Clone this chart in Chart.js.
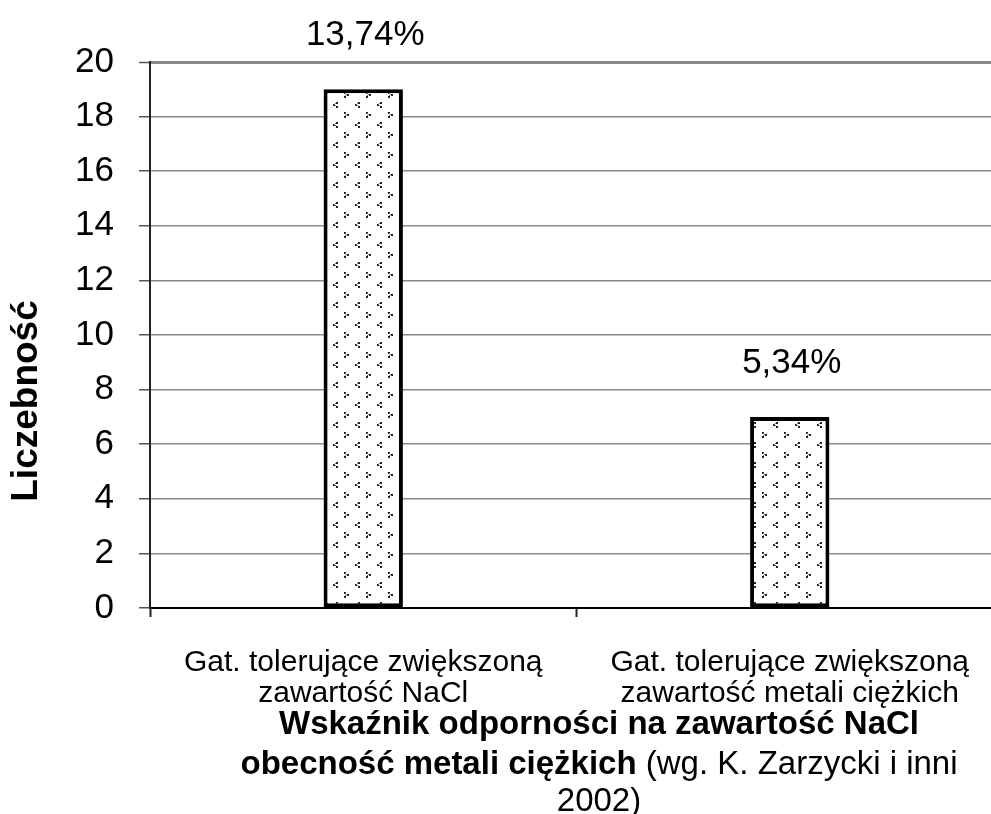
<!DOCTYPE html>
<html lang="pl">
<head>
<meta charset="utf-8">
<title>Wskaźnik odporności</title>
<script src="https://cdn.jsdelivr.net/npm/chart.js@4.4.1/dist/chart.umd.min.js"></script>
<style>
  html, body { margin: 0; padding: 0; background: #fff; overflow: hidden; }
  #wrap { position: absolute; left: 0; top: 0; width: 1003px; height: 814px; }
</style>
</head>
<body>
<div id="wrap"><canvas id="chart"></canvas></div>
<script>
// Category labels (two lines each)
const categories = [
  ['Gat. tolerujące zwiększoną', 'zawartość NaCl'],
  ['Gat. tolerujące zwiększoną', 'zawartość metali ciężkich']
];
// Number of species in each group
const counts = [19, 7];
// Share labels shown above the bars
const percentLabels = ['13,74%', '5,34%'];

const yTitle = 'Liczebność';
const xTitleLine1 = 'Wskaźnik odporności na zawartość NaCl';
const xTitleLine2Bold = 'obecność metali ciężkich';
const xTitleLine2Normal = ' (wg. K. Zarzycki i inni';
const xTitleLine3 = '2002)';

const FONT = '"Liberation Sans", Arial, Helvetica, sans-serif';

// Dotted "< >" fill used for the bars
function makePattern() {
  const c = document.createElement('canvas');
  c.width = 22; c.height = 20;
  const g = c.getContext('2d');
  g.fillStyle = '#fff';
  g.fillRect(0, 0, 22, 20);
  g.fillStyle = '#222';
  // "<" glyph: three heavy dots
  [[3,0],[0,2],[3,4]].forEach(([x, y]) => g.fillRect(3 + x, 2 + y, 2, 2));
  g.fillStyle = '#777';
  [[2,1],[1,2],[2,3]].forEach(([x, y]) => g.fillRect(3 + x, 2 + y, 1, 1));
  // ">" glyph
  g.fillStyle = '#222';
  [[0,0],[3,2],[0,4]].forEach(([x, y]) => g.fillRect(14 + x, 12 + y, 2, 2));
  g.fillStyle = '#777';
  [[1,1],[2,2],[1,3]].forEach(([x, y]) => g.fillRect(14 + x, 12 + y, 1, 1));
  return document.getElementById('chart').getContext('2d').createPattern(c, 'repeat');
}

const textPlugin = {
  id: 'texts',
  afterDatasetsDraw(chart) {
    const ctx = chart.ctx;
    ctx.save();
    ctx.fillStyle = '#000';
    // value labels above bars
    const meta = chart.getDatasetMeta(0);
    ctx.font = '35px ' + FONT;
    ctx.textAlign = 'center';
    ctx.textBaseline = 'alphabetic';
    meta.data.forEach((bar, i) => {
      ctx.fillText(percentLabels[i], bar.x + 2, bar.y - 44);
    });

    // y-axis title
    ctx.save();
    ctx.translate(27, 401);
    ctx.rotate(-Math.PI / 2);
    ctx.font = 'bold 37px ' + FONT;
    ctx.textAlign = 'center';
    ctx.textBaseline = 'middle';
    ctx.fillText(yTitle, 0, 0);
    ctx.restore();

    // x-axis title (mixed weights)
    const cx = 599;
    ctx.textAlign = 'left';
    ctx.font = 'bold 33px ' + FONT;
    let w = ctx.measureText(xTitleLine1).width;
    ctx.fillText(xTitleLine1, cx - w / 2, 734);

    ctx.font = 'bold 33px ' + FONT;
    const wb = ctx.measureText(xTitleLine2Bold).width;
    ctx.font = '33px ' + FONT;
    const wn = ctx.measureText(xTitleLine2Normal).width;
    let x0 = cx - (wb + wn) / 2;
    ctx.font = 'bold 33px ' + FONT;
    ctx.fillText(xTitleLine2Bold, x0, 774);
    ctx.font = '33px ' + FONT;
    ctx.fillText(xTitleLine2Normal, x0 + wb, 774);

    w = ctx.measureText(xTitleLine3).width;
    ctx.fillText(xTitleLine3, cx - w / 2, 811);
    ctx.restore();
  }
};

new Chart(document.getElementById('chart'), {
  type: 'bar',
  data: {
    labels: categories,
    datasets: [{
      data: counts,
      backgroundColor: makePattern(),
      borderColor: '#000',
      borderWidth: 4,
      borderSkipped: false,
      categoryPercentage: 1,
      barPercentage: 0.186
    }]
  },
  options: {
    responsive: true,
    maintainAspectRatio: false,
    animation: false,
    events: [],
    layout: { padding: { top: 62, left: 0, right: 0, bottom: 0 } },
    plugins: { legend: { display: false }, tooltip: { enabled: false } },
    scales: {
      x: {
        afterFit(scale) { scale.height = 206; },
        grid: {
          offset: true,
          drawOnChartArea: false,
          drawTicks: true,
          tickLength: 9,
          tickColor: '#222',
          tickWidth: 2
        },
        border: { color: '#000', width: 2 },
        ticks: {
          color: '#000',
          font: { family: FONT, size: 30, lineHeight: 1.04 },
          padding: 30,
          maxRotation: 0,
          autoSkip: false
        }
      },
      y: {
        min: 0,
        max: 20,
        afterFit(scale) { scale.width = 150; },
        grid: {
          color: '#8a8a8a',
          lineWidth: (c) => (c.tick && c.tick.value === 20 ? 3 : 1.5),
          tickLength: 11,
          tickColor: '#555',
          tickWidth: 1.5
        },
        border: { color: '#222', width: 2 },
        ticks: {
          stepSize: 2,
          color: '#000',
          font: { family: FONT, size: 35 },
          padding: 25
        }
      }
    }
  },
  plugins: [textPlugin]
});
</script>
</body>
</html>
